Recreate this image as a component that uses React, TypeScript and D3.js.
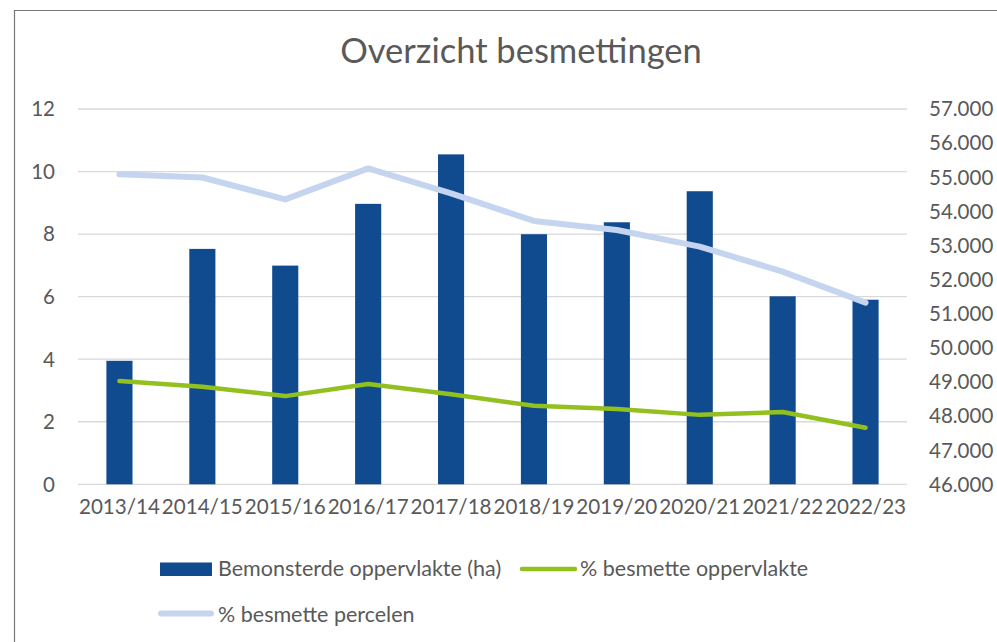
import { useEffect } from 'react'
import * as d3 from 'd3'

const SEASONS = ['2013/14', '2014/15', '2015/16', '2016/17', '2017/18', '2018/19', '2019/20', '2020/21', '2021/22', '2022/23']
// Bemonsterde oppervlakte (ha), rechter as
const SAMPLED_AREA = [49620, 52900, 52410, 54220, 55670, 53330, 53680, 54590, 51510, 51410]
// % besmette oppervlakte, linker as
const PCT_AREA = [3.30, 3.12, 2.82, 3.21, 2.88, 2.51, 2.41, 2.22, 2.31, 1.81]
// % besmette percelen, linker as
const PCT_PLOTS = [9.91, 9.81, 9.11, 10.10, 9.30, 8.42, 8.13, 7.60, 6.80, 5.81]

const LEFT_TICKS = [0, 2, 4, 6, 8, 10, 12]
const RIGHT_TICKS = d3.range(46000, 57001, 1000)

const BAR_COLOR = '#114B8F'
const GREEN = '#92C01F'
const LIGHT_BLUE = '#C5D5EF'
const TEXT = '#595959'
const GRID = '#D9D9D9'
const FONT = 'Lato, "Open Sans", sans-serif'

const nl = d3.formatLocale({ decimal: ',', thousands: '.', grouping: [3], currency: ['€', ''] })
const fmtRight = nl.format(',d')

export default function App() {
  const width = 997
  const height = 642
  const plot = { left: 78, right: 907, top: 109, bottom: 484.3 }

  useEffect(() => {
    document.body.style.margin = '0'
    document.body.style.overflow = 'hidden'
  }, [])

  const x = d3.scaleBand<string>()
    .domain(SEASONS)
    .range([plot.left, plot.right])
  const barW = x.bandwidth() * 0.315

  const yLeft = d3.scaleLinear().domain([0, 12]).range([plot.bottom, plot.top])
  const yRight = d3.scaleLinear().domain([46000, 57000]).range([plot.bottom, plot.top])

  const cx = (s: string) => (x(s) ?? 0) + x.bandwidth() / 2

  const line = d3.line<number>()
    .x((_, i) => cx(SEASONS[i]))
    .y(d => yLeft(d))

  return (
    <svg width={width} height={height} style={{ position: 'absolute', left: 0, top: 0, display: 'block' }} fontFamily={FONT}>
      <rect x={0} y={0} width={width} height={height} fill="#fff" />
      {/* chart border */}
      <path d={`M14.5,${height} V10.5 H${width}`} fill="none" stroke="#767676" strokeWidth={1.2} />

      <text x={521} y={63} textAnchor="middle" fontSize={34.5} fill={TEXT}>Overzicht besmettingen</text>

      {/* gridlines */}
      {LEFT_TICKS.map(t => (
        <line key={t} x1={plot.left} x2={plot.right} y1={yLeft(t)} y2={yLeft(t)} stroke={GRID} strokeWidth={1.3} />
      ))}

      {/* left axis labels */}
      {LEFT_TICKS.map(t => (
        <text key={t} x={55} y={yLeft(t)} dy="0.36em" textAnchor="end" fontSize={20.5} fill={TEXT}>{t}</text>
      ))}

      {/* right axis labels */}
      {RIGHT_TICKS.map(t => (
        <text key={t} x={929} y={yRight(t)} dy="0.36em" textAnchor="start" fontSize={20.5} fill={TEXT}>{fmtRight(t)}</text>
      ))}

      {/* bars */}
      {SEASONS.map((s, i) => (
        <rect key={s} x={cx(s) - barW / 2} y={yRight(SAMPLED_AREA[i])} width={barW}
          height={plot.bottom - yRight(SAMPLED_AREA[i])} fill={BAR_COLOR} />
      ))}

      {/* lines */}
      <path d={line(PCT_AREA) ?? ''} fill="none" stroke={GREEN} strokeWidth={4.5} strokeLinecap="round" strokeLinejoin="round" />
      <path d={line(PCT_PLOTS) ?? ''} fill="none" stroke={LIGHT_BLUE} strokeWidth={6} strokeLinecap="round" strokeLinejoin="round" />

      {/* x labels */}
      {SEASONS.map(s => (
        <text key={s} x={cx(s)} y={513.5} textAnchor="middle" fontSize={20.6} fill={TEXT}>{s}</text>
      ))}

      {/* legend */}
      <rect x={160} y={562.5} width={52} height={13.5} fill={BAR_COLOR} />
      <text x={218} y={576} fontSize={21.5} fill={TEXT}>Bemonsterde oppervlakte (ha)</text>
      <line x1={522} x2={575} y1={569} y2={569} stroke={GREEN} strokeWidth={4.5} strokeLinecap="round" />
      <text x={580} y={576} fontSize={21.5} fill={TEXT}>% besmette oppervlakte</text>
      <line x1={161} x2={211} y1={613.5} y2={613.5} stroke={LIGHT_BLUE} strokeWidth={6} strokeLinecap="round" />
      <text x={218} y={621.5} fontSize={21.5} fill={TEXT}>% besmette percelen</text>
    </svg>
  )
}
